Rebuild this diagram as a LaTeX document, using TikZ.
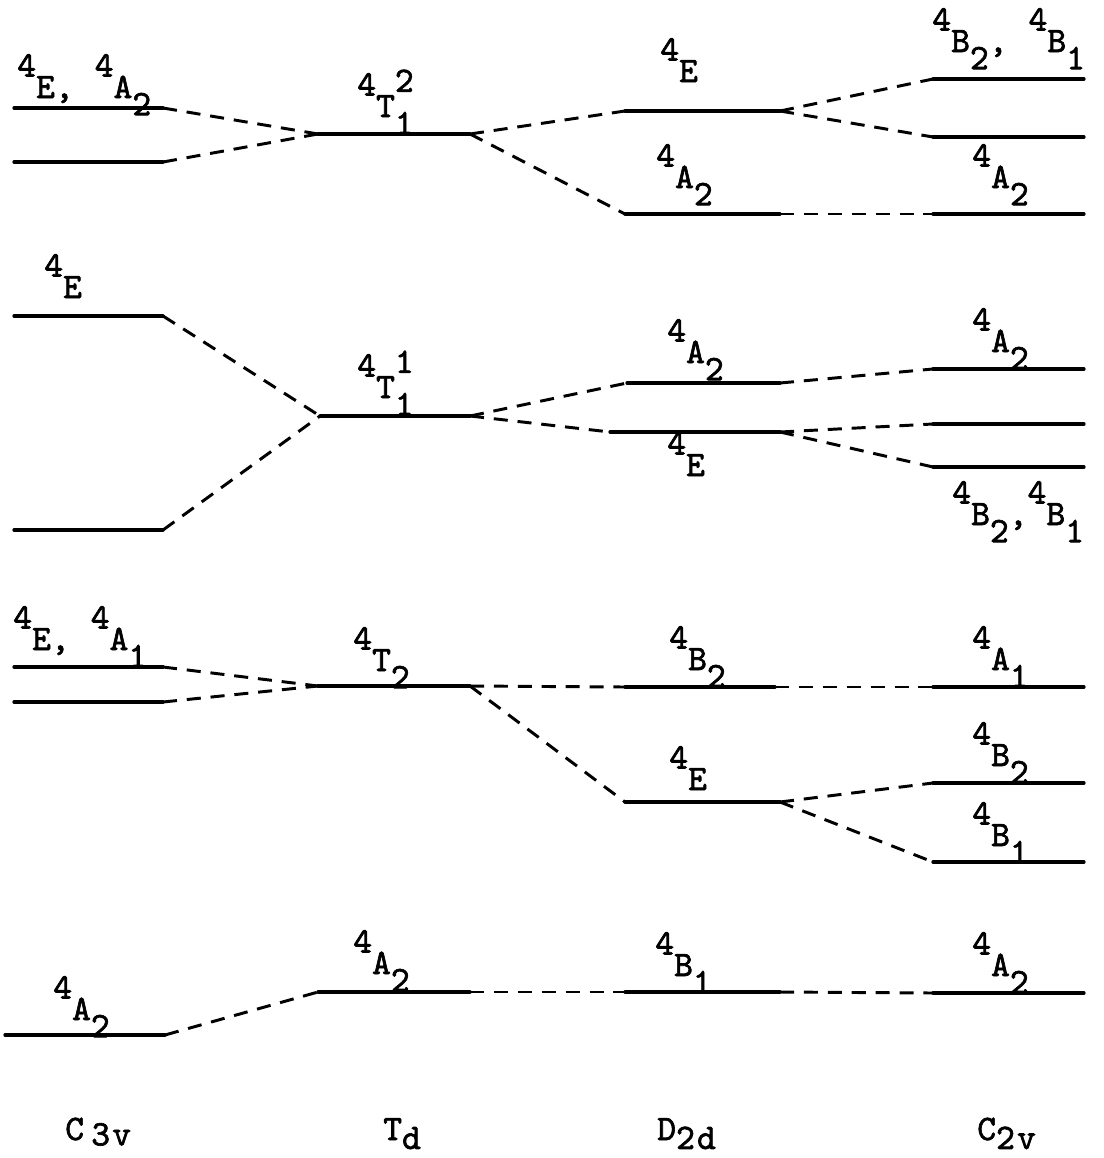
\documentclass[tikz,border=0pt]{standalone}
\usepackage{fontspec}
\setmonofont{lmmono10-regular.otf}[FakeBold=1.8,LetterSpace=6]
% term symbol: raised multiplicity 4, letter, lowered index
\newcommand{\qterm}[2]{\raisebox{.6em}{4}#1\raisebox{-.48em}{#2}}
% T term with both a lowered and a raised index
\newcommand{\tterm}[2]{\raisebox{.6em}{4}T\rlap{\raisebox{.7em}{#2}}\raisebox{-.48em}{#1}}
% group name with lowered tail
\newcommand{\grpname}[2]{#1\raisebox{-.25em}{#2}}
\begin{document}
\begin{tikzpicture}[x=0.025cm,y=-0.025cm,
  lvl/.style={line width=2.3pt,line cap=round},
  link/.style={line width=2.1pt,dash pattern=on 10pt off 7pt},
  lab/.style={anchor=base west,inner sep=0pt,font=\ttfamily\fontsize{25.5}{30}\selectfont}]
\useasboundingbox (0,0) rectangle (1104,1158);

% ---------- level end points ----------
% C3v column (a), Td column (b), D2d column (c), C2v column (d)
\foreach \n/\xl/\xr/\y in {
  a1/14/163/108, a2/14/163/162, b1/318/470/134,
  c1/625/780/111, c2/625/780/214,
  d1/933/1084/79, d2/933/1084/137, d3/933/1084/214,
  a3/14/163/316, a4/14/163/530, b2/320/470/416,
  c3/627/780/383, c4/610/780/432,
  d4/933/1084/369, d5/933/1084/424, d6/933/1084/467,
  a5/14/163/667, a6/14/163/702, b3/318/470/686,
  c5/625/775/687, c6/625/780/802,
  d7/933/1084/687, d8/933/1084/783, d9/933/1084/862,
  a7/5/165/1035, b4/318/470/992, c7/625/780/992, d10/933/1084/993}{
  \coordinate (\n-l) at (\xl,\y);
  \coordinate (\n-r) at (\xr,\y);
}

% ---------- levels ----------
\foreach \n in {a1,a2,b1,c1,c2,d1,d2,d3,a3,a4,b2,c3,c4,d4,d5,d6,
                a5,a6,b3,c5,c6,d7,d8,d9,a7,b4,c7,d10}
  \draw[lvl] (\n-l) -- (\n-r);

% ---------- correlation lines ----------
\foreach \p/\q in {a1/b1,a2/b1,b1/c1,b1/c2,c1/d1,c1/d2,c2/d3,
                   a3/b2,a4/b2,b2/c3,b2/c4,c3/d4,c4/d5,c4/d6,
                   a5/b3,a6/b3,b3/c5,b3/c6,c5/d7,c6/d8,c6/d9,
                   a7/b4,b4/c7,c7/d10}
  \draw[link] (\p-r) -- (\q-l);

% ---------- term labels ----------
\node[lab] (la1) at (17,98)   {\qterm{E}{}, \qterm{A}{2}};
\node[lab] (lb1) at (357,117) {\tterm{1}{2}};
\node[lab] (lc1) at (660,82)  {\qterm{E}{}};
\node[lab] (ld1) at (932,52)  {\qterm{B}{2}, \qterm{B}{1}};
\node[lab] (lc2) at (656,188) {\qterm{A}{2}};
\node[lab] (ld3) at (972,188) {\qterm{A}{2}};

\node[lab] (la3) at (44,298)  {\qterm{E}{}};
\node[lab] (lb2) at (357,398) {\tterm{1}{1}};
\node[lab] (lc3) at (667,363) {\qterm{A}{2}};
\node[lab] (lc4) at (667,476) {\qterm{E}{}};
\node[lab] (ld4) at (972,352) {\qterm{A}{2}};
\node[lab] (ld6) at (952,525) {\qterm{B}{2},\qterm{B}{1}};

\node[lab] (la5) at (13,650)  {\qterm{E}{}, \qterm{A}{1}};
\node[lab] (lb3) at (353,671) {\qterm{T}{2}};
\node[lab] (lc5) at (669,670) {\qterm{B}{2}};
\node[lab] (ld7) at (972,670) {\qterm{A}{1}};
\node[lab] (ld8) at (972,766) {\qterm{B}{2}};
\node[lab] (lc6) at (669,790) {\qterm{E}{}};
\node[lab] (ld9) at (972,846) {\qterm{B}{1}};

\node[lab] (la7) at (53,1020) {\qterm{A}{2}};
\node[lab] (lb4) at (353,974) {\qterm{A}{2}};
\node[lab] (lc7) at (655,976) {\qterm{B}{1}};
\node[lab] (ld10) at (972,976) {\qterm{A}{2}};

% ---------- point group names ----------
\node[lab] (ga) at (65,1140)  {C\hspace{.2em}\raisebox{-.15em}{3v}};
\node[lab] (gb) at (383,1140) {\grpname{T}{d}};
\node[lab] (gc) at (657,1140) {\grpname{D}{2d}};
\node[lab] (gd) at (977,1140) {\grpname{C}{2v}};
\end{tikzpicture}
\end{document}
